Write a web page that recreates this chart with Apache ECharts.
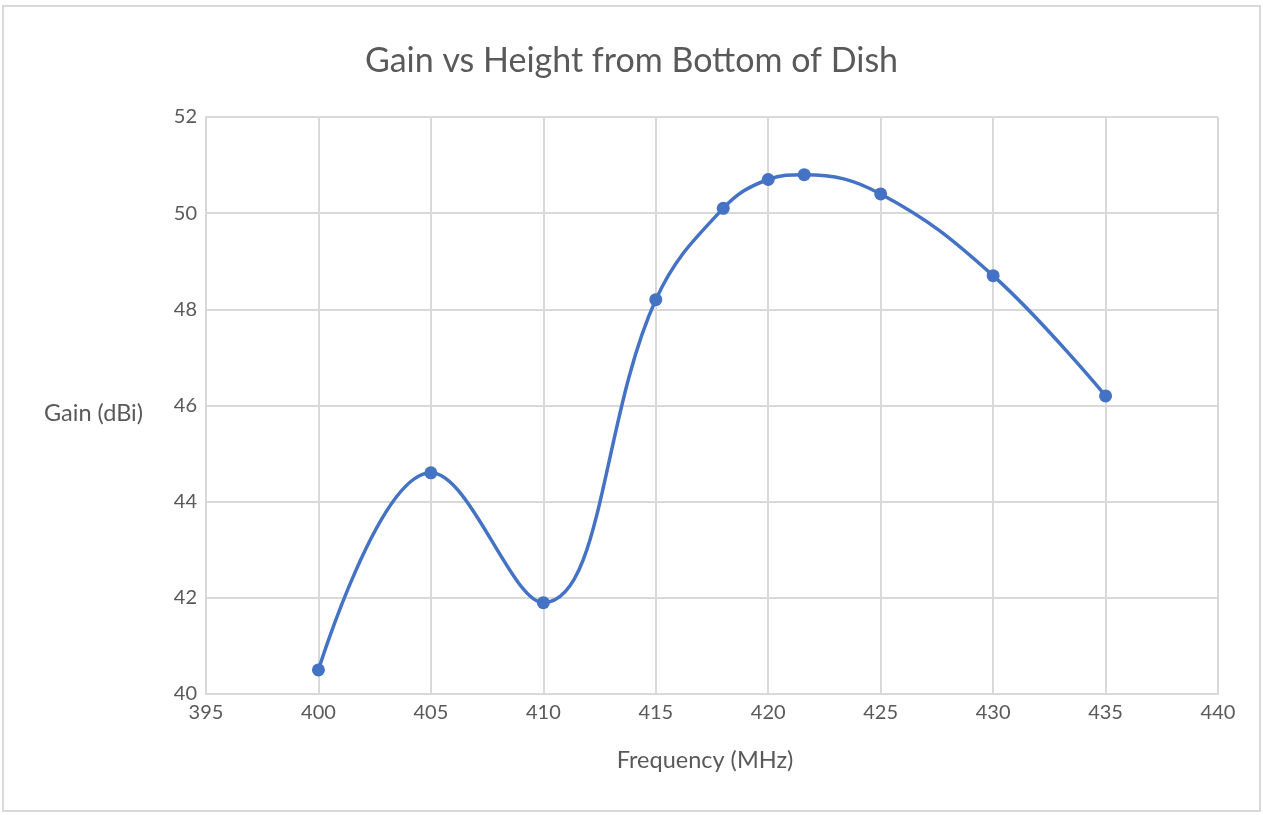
<!DOCTYPE html>
<html><head><meta charset="utf-8">
<script src="https://cdn.jsdelivr.net/npm/echarts@6/dist/echarts.min.js"></script>
<style>html,body{margin:0;padding:0;background:#fff}#c{width:1263px;height:815px}</style>
</head><body><div id="c"></div>
<script>
const freq = [400, 405, 410, 415, 418, 420, 421.6, 425, 430, 435];
const gain = [40.5, 44.6, 41.9, 48.2, 50.1, 50.7, 50.8, 50.4, 48.7, 46.2];
const title = 'Gain vs Height from Bottom of Dish';
const xName = 'Frequency (MHz)';
const yName = 'Gain (dBi)';
const font = 'Lato, Carlito, "Open Sans", sans-serif';
const chart = echarts.init(document.getElementById('c'));
chart.setOption({
  animation: false,
  title: { text: title, left: 'center', top: 39, textStyle: { fontFamily: font, fontSize: 34, fontWeight: 'normal', color: '#595959' } },
  grid: { left: 206, right: 45, top: 117, bottom: 121 },
  xAxis: {
    type: 'value', min: 395, max: 440, interval: 5,
    name: xName, nameLocation: 'middle', nameGap: 54,
    nameTextStyle: { fontFamily: font, fontSize: 23.5, color: '#595959', padding: [0, 14, 0, 0] },
    axisLine: { show: true, lineStyle: { color: '#d9d9d9', width: 2 } },
    axisTick: { show: false },
    axisLabel: { fontFamily: font, fontSize: 20, color: '#595959', margin: 9 },
    splitLine: { show: true, lineStyle: { color: '#d9d9d9', width: 2 } }
  },
  yAxis: {
    type: 'value', min: 40, max: 52, interval: 2,
    name: yName, nameLocation: 'middle', nameRotate: 0, nameGap: 63,
    nameTextStyle: { fontFamily: font, fontSize: 23.5, color: '#595959', align: 'right', verticalAlign: 'top', lineHeight: 16 },
    axisLine: { show: true, lineStyle: { color: '#d9d9d9', width: 2 } },
    axisTick: { show: false },
    axisLabel: { fontFamily: font, fontSize: 20, color: '#595959', margin: 9 },
    splitLine: { show: true, lineStyle: { color: '#d9d9d9', width: 2 } }
  },
  series: [{
    type: 'line', data: freq.map((f, i) => [f, gain[i]]),
    smooth: 0.4, symbol: 'circle', symbolSize: 13,
    lineStyle: { color: '#4472C4', width: 3.5 },
    itemStyle: { color: '#4472C4' }
  }],
  graphic: [{ type: 'rect', shape: { x: 3, y: 6, width: 1257, height: 805 }, style: { fill: 'none', stroke: '#d9d9d9', lineWidth: 2 } }]
});
</script></body></html>
